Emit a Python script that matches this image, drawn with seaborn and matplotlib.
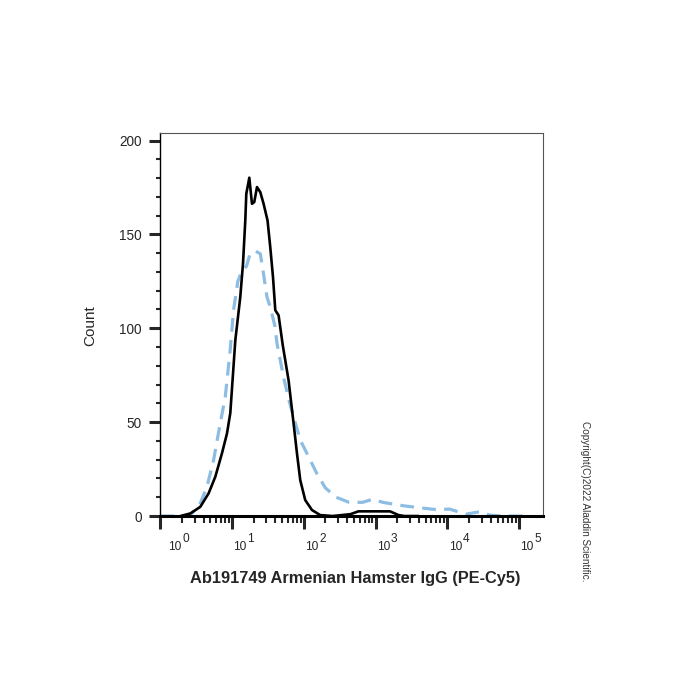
import numpy as np
import pandas as pd
import seaborn as sns
import matplotlib.pyplot as plt
from matplotlib.ticker import FixedLocator, NullFormatter

# intensity positions are given as log10 of the PE-Cy5 signal
stained_log = [0.28, 0.42, 0.557, 0.673, 0.766, 0.859, 0.929, 0.975, 1.045, 1.114,
               1.152, 1.184, 1.198, 1.240, 1.277, 1.309, 1.347, 1.393, 1.439, 1.494,
               1.532, 1.570, 1.602, 1.648, 1.706, 1.787, 1.857, 1.904, 1.950, 2.019,
               2.113, 2.228, 2.40, 2.65, 2.76, 3.20, 3.32, 3.40, 3.60]
stained_count = [0, 1.4, 4.9, 12.1, 20.9, 33.4, 44.0, 54.8, 93.6, 116.6,
                 134.4, 157.4, 171.6, 180.2, 166.3, 167.2, 175.2, 172.5, 166.3, 157.4,
                 143.2, 127.3, 109.6, 106.9, 91.0, 72.3, 49.3, 33.4, 19.1, 8.5,
                 3.2, 0.5, 0, 1, 2.5, 2.5, 0.5, 0, 0]

isotype_log = [0.00, 0.36, 0.44, 0.557, 0.65, 0.742, 0.826, 0.905, 0.975, 1.02,
               1.08, 1.14, 1.20, 1.253, 1.33, 1.393, 1.43, 1.486, 1.532, 1.60,
               1.625, 1.717, 1.79, 1.857, 1.95, 2.02, 2.18, 2.30, 2.45, 2.63,
               2.82, 2.96, 3.10, 3.38, 3.57, 3.85, 4.03, 4.26, 4.45, 4.59,
               4.75, 5.15]
isotype_count = [0, 0, 1.4, 6.8, 15.6, 29.8, 47.5, 63.5, 89, 109.6,
                 125, 131, 133, 140, 141, 139.7, 131, 116.6, 111.3, 100.7,
                 92, 74, 62, 52.8, 40.4, 35.1, 22.7, 15, 10, 7.3,
                 7.3, 9, 7.3, 5.5, 4.6, 3.4, 3.7, 1, 2.3, 0.5,
                 0, 0]

decades = [0, 1, 2, 3, 4, 5]
y_ticks = [0, 50, 100, 150, 200]

sns.set_style("white")
plt.rcParams['font.family'] = ['Liberation Sans', 'DejaVu Sans']

stained = pd.DataFrame({'x': np.power(10.0, stained_log), 'count': stained_count})
isotype = pd.DataFrame({'x': np.power(10.0, isotype_log), 'count': isotype_count})

fig = plt.figure(figsize=(7, 7), dpi=100)
ax = fig.add_axes([0.228, 0.2628, 0.548, 0.5472])

sns.lineplot(data=isotype, x='x', y='count', ax=ax, color='#8dbde3',
             linewidth=2.3, sort=False)
ax.lines[-1].set_dashes((4.3, 2.6))
sns.lineplot(data=stained, x='x', y='count', ax=ax, color='black',
             linewidth=1.9, sort=False)

ax.set_xscale('log')
ax.set_xlim(10 ** -0.01, 10 ** 5.335)
ax.set_ylim(0, 204)

minor = [m * 10 ** d for d in range(0, 5) for m in range(2, 10)]
ax.xaxis.set_major_locator(FixedLocator([10 ** d for d in decades]))
ax.xaxis.set_minor_locator(FixedLocator(minor))
ax.xaxis.set_minor_formatter(NullFormatter())
ax.set_xticklabels([])
ax.set_yticks(y_ticks)
ax.set_yticks(np.arange(0, 201, 10), minor=True)
ax.set_yticklabels([str(v) for v in y_ticks], fontsize=9.8)

# decade labels: base "10" with a full-size raised exponent, as in FlowJo
xform = ax.get_xaxis_transform()
for d in decades:
    dx = 5.8 if d == 0 else 1.0
    ax.annotate('10', xy=(10 ** d, 0), xycoords=xform, xytext=(dx, -24.5),
                textcoords='offset points', ha='left', va='baseline',
                fontsize=8.6, annotation_clip=False)
    ax.annotate(str(d), xy=(10 ** d, 0), xycoords=xform, xytext=(dx + 9.9, -18.5),
                textcoords='offset points', ha='left', va='baseline',
                fontsize=8.6, annotation_clip=False)

ax.tick_params(axis='x', which='major', direction='out', length=9.5, width=2.2,
               bottom=True)
ax.tick_params(axis='x', which='minor', direction='out', length=5, width=1.5,
               bottom=True)
ax.tick_params(axis='y', which='major', direction='out', length=8, width=2.2,
               pad=5, left=True)
ax.tick_params(axis='y', which='minor', direction='out', length=3, width=1.5,
               left=True)

for side in ['top', 'right']:
    ax.spines[side].set_color('#555555')
    ax.spines[side].set_linewidth(0.8)
ax.spines['left'].set_color('black')
ax.spines['left'].set_linewidth(1.0)
ax.spines['bottom'].set_color('black')
ax.spines['bottom'].set_linewidth(2.2)

ax.set_xlabel('')
ax.set_ylabel('')
fig.text(90 / 700, 1 - 326 / 700, 'Count', rotation=90, ha='center',
         va='center', fontsize=11)
fig.text(355 / 700, 1 - 578 / 700, 'Ab191749 Armenian Hamster IgG (PE-Cy5)',
         ha='center', va='center', fontsize=11.8, fontweight='bold')
fig.text(585 / 700, 1 - 501 / 700, 'Copyright(C)2022 Aladdin Scientific.',
         rotation=-90, ha='center', va='center', fontsize=7.2, color='#333333')

fig.savefig('out.png', dpi=100)
